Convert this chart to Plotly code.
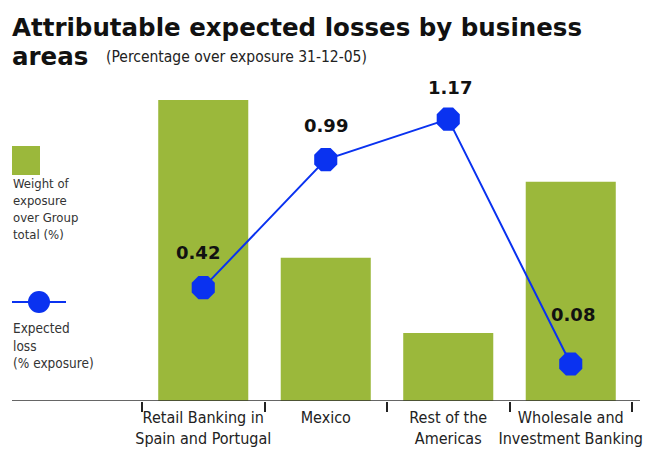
import plotly.graph_objects as go

# Business areas and their values
categories = ["Retail Banking in Spain and Portugal", "Mexico",
              "Rest of the Americas", "Wholesale and Investment Banking"]
tick_labels = ["Retail Banking in<br>Spain and Portugal", "Mexico",
               "Rest of the<br>Americas", "Wholesale and<br>Investment Banking"]
exposure_weight = [41.2, 19.6, 9.3, 30.0]      # % of Group total exposure
expected_loss = [0.42, 0.99, 1.17, 0.08]        # % of exposure
loss_labels = ["0.42", "0.99", "1.17", "0.08"]

GREEN = "#9bb83b"
BLUE = "#0a32f0"
NARROW = "DejaVu Sans Condensed, Liberation Sans Narrow, sans-serif"
HEAVY = "DejaVu Sans, Liberation Sans, sans-serif"

fig = go.Figure()
fig.add_trace(go.Bar(
    x=categories, y=exposure_weight, marker=dict(color=GREEN, line=dict(width=0)),
    width=0.735, showlegend=False, hoverinfo="skip"))
fig.add_trace(go.Scatter(
    x=categories, y=expected_loss, yaxis="y2", mode="lines+markers",
    line=dict(color=BLUE, width=2),
    marker=dict(color=BLUE, size=25, symbol="octagon"),
    showlegend=False, hoverinfo="skip"))

# Value labels above each loss marker (the last one sits a little higher)
label_shift = [35, 34, 32, 50]
label_xshift = [-5, 0, 2, 2]
for c, v, t, dy, dx in zip(categories, expected_loss, loss_labels, label_shift, label_xshift):
    fig.add_annotation(x=c, y=v, yref="y2", text=t, showarrow=False,
                       yshift=dy, xshift=dx,
                       font=dict(family=HEAVY, size=18, color="#111", weight="bold"))

annotations_common = dict(xref="paper", yref="paper", showarrow=False,
                          xanchor="left", yanchor="middle")
PW, PH, L, T = 490, 316, 142, 85
def px(x):
    return (x - L) / PW
def py(y):
    return 1 - (y - T) / PH

# Title
fig.add_annotation(x=px(10), y=py(28), text="<b>Attributable expected losses by business</b>",
                   font=dict(family=HEAVY, size=24.5, color="#111"), **annotations_common)
fig.add_annotation(x=px(10), y=py(57), text="<b>areas</b>",
                   font=dict(family=HEAVY, size=24.5, color="#111"), **annotations_common)
fig.add_annotation(x=px(104), y=py(57), text="(Percentage over exposure 31-12-05)",
                   font=dict(family=NARROW, size=15.5, color="#222"), **annotations_common)

# Legend: bar swatch
fig.add_shape(type="rect", xref="paper", yref="paper", x0=px(12), x1=px(40),
              y0=py(175), y1=py(146), fillcolor=GREEN, line=dict(width=0))
fig.add_annotation(x=px(11), y=py(209), text="Weight of<br>exposure<br>over Group<br>total (%)",
                   align="left", font=dict(family=NARROW, size=13, color="#333"),
                   **annotations_common)
# Legend: line swatch
fig.add_shape(type="line", xref="paper", yref="paper", x0=px(12), x1=px(66),
              y0=py(302), y1=py(302), line=dict(color=BLUE, width=2))
fig.add_shape(type="circle", xref="paper", yref="paper", x0=px(28), x1=px(50),
              y0=py(313), y1=py(291), fillcolor=BLUE, line=dict(width=0))
fig.add_annotation(x=px(11), y=py(345), text="Expected<br>loss<br>(% exposure)",
                   align="left", font=dict(family=NARROW, size=13.5, color="#333"),
                   **annotations_common)

# Baseline running across the full width
fig.add_shape(type="line", xref="paper", yref="y", x0=px(12), x1=px(640), y0=0, y1=0,
              line=dict(color="#333", width=1.5))

fig.update_layout(
    width=650, height=457,
    margin=dict(l=L, r=650 - L - PW, t=T, b=457 - T - PH),
    paper_bgcolor="white", plot_bgcolor="white",
    xaxis=dict(tickmode="array", tickvals=categories, ticktext=tick_labels,
               tickson="boundaries", ticks="outside", ticklen=10, tickwidth=1.5,
               tickcolor="#222", showline=False, showgrid=False, zeroline=False,
               tickangle=0, automargin=False, ticklabelstandoff=5,
               tickfont=dict(family=NARROW, size=16, color="#222"),
               range=[-0.5, 3.5]),
    yaxis=dict(visible=False, range=[0, 43.25], automargin=False),
    yaxis2=dict(visible=False, overlaying="y", range=[-0.0846, 1.322], automargin=False),
    bargap=0.2,
)

fig.write_html("out.html")
